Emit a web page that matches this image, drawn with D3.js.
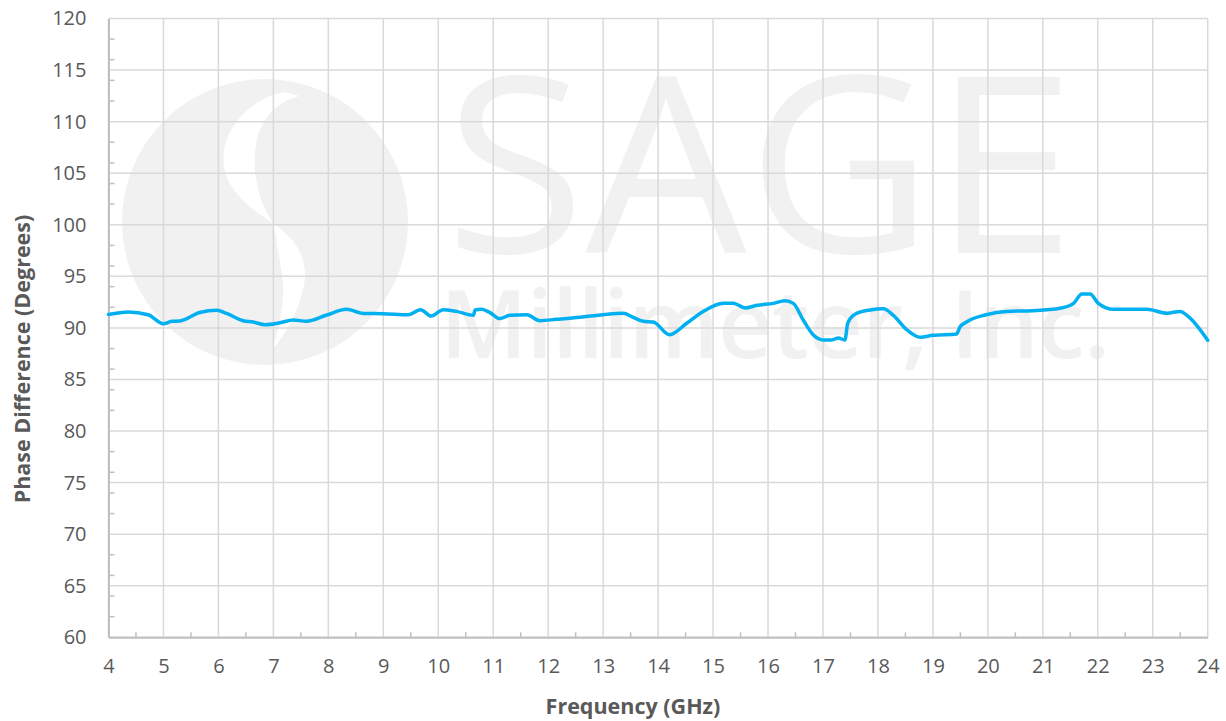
<!DOCTYPE html>
<html>
<head>
<meta charset="utf-8">
<script src="https://cdn.jsdelivr.net/npm/d3@7"></script>
<style>
  body { margin: 0; background: #fff; }
  text { font-family: "Open Sans", sans-serif; }
</style>
</head>
<body>
<svg width="1226" height="721"></svg>
<script>
// frequency (GHz) and phase difference (degrees)
const freq = [4.0, 4.36, 4.72, 5.0, 5.15, 5.3, 5.66, 5.97, 6.15, 6.45, 6.63, 6.85, 7.12, 7.36, 7.6,
              7.97, 8.33, 8.64, 9.0, 9.45, 9.68, 9.87, 10.09, 10.33, 10.64, 10.67, 10.79, 10.94,
              11.12, 11.3, 11.61, 11.85, 12.15, 12.58, 13.0, 13.37, 13.52, 13.73, 13.91, 14.21,
              14.52, 14.82, 15.19, 15.37, 15.58, 15.8, 16.1, 16.31, 16.46, 16.64, 16.83, 17.0,
              17.16, 17.28, 17.4, 17.45, 17.59, 17.86, 18.1, 18.28, 18.53, 18.77, 19.0, 19.43,
              19.49, 19.61, 19.97, 20.34, 20.82, 21.31, 21.56, 21.71, 21.86, 22.01, 22.29, 22.89,
              23.26, 23.5, 23.65, 24.0];
const phase = [91.3, 91.55, 91.28, 90.4, 90.64, 90.67, 91.5, 91.7, 91.4, 90.7, 90.57, 90.31, 90.5, 90.77, 90.64,
               91.25, 91.8, 91.4, 91.38, 91.28, 91.77, 91.15, 91.77, 91.6, 91.22, 91.74, 91.8, 91.48,
               90.9, 91.22, 91.28, 90.7, 90.83, 91.03, 91.28, 91.42, 91.09, 90.64, 90.57, 89.34,
               90.45, 91.6, 92.4, 92.4, 91.93, 92.19, 92.38, 92.64, 92.38, 90.77, 89.28, 88.83,
               88.83, 89.02, 88.83, 90.45, 91.35, 91.74, 91.86, 91.22, 89.8, 89.09, 89.28, 89.41,
               90.06, 90.57, 91.28, 91.6, 91.67, 91.9, 92.38, 93.29, 93.29, 92.38, 91.8, 91.8,
               91.42, 91.6, 91.09, 88.8];

const xTicks = d3.range(4, 25, 1);
const yTicks = d3.range(60, 121, 5);
const yMinor = d3.range(62, 120, 2).filter(d => d % 10 !== 0);
const xMinor = d3.range(4.5, 24, 1);

const svg = d3.select('svg');
const pLeft = 108.5, pRight = 1207.7, pTop = 18.5, pBottom = 637.3;

const x = d3.scaleLinear().domain([4, 24]).range([pLeft, pRight]);
const y = d3.scaleLinear().domain([60, 120]).range([pBottom, pTop]);

// watermark
const wm = svg.append('g');
wm.append('circle').attr('cx', 265).attr('cy', 222).attr('r', 143).attr('fill', '#f1f1f1');
wm.append('path')
  .attr('d', 'M285 92 C240 100 212 145 228 180 C238 200 258 214 273 223 C257 200 250 165 258 135 C266 112 282 100 300 96 Z')
  .attr('fill', '#fff');
wm.append('path')
  .attr('d', 'M273 223 C298 240 310 262 303 290 C297 315 285 335 272 350 C282 320 286 292 281 268 C278 250 276 236 273 223 Z')
  .attr('fill', '#fff');
wm.append('text').attr('x', 445).attr('y', 253)
  .attr('textLength', 630).attr('lengthAdjust', 'spacingAndGlyphs')
  .style('font-size', '246px').style('font-weight', 400).attr('fill', '#f1f1f1')
  .text('SAGE');
wm.append('text').attr('x', 440).attr('y', 358)
  .attr('textLength', 670).attr('lengthAdjust', 'spacing')
  .style('font-size', '95px').style('font-weight', 600).attr('fill', '#f1f1f1')
  .text('Millimeter, Inc.');

// gridlines
svg.append('g').selectAll('line').data(yTicks).join('line')
  .attr('x1', pLeft).attr('x2', pRight)
  .attr('y1', d => y(d)).attr('y2', d => y(d))
  .attr('stroke', '#d9d9d9').attr('stroke-width', 1.5);
svg.append('g').selectAll('line').data(xTicks).join('line')
  .attr('y1', pTop).attr('y2', pBottom)
  .attr('x1', d => x(d)).attr('x2', d => x(d))
  .attr('stroke', '#d9d9d9').attr('stroke-width', 1.5);

// axes
const yAxis = d3.axisLeft(y).tickValues(yTicks).tickSize(0).tickPadding(22);
const xAxis = d3.axisBottom(x).tickValues(xTicks).tickSize(0).tickPadding(22);

const yg = svg.append('g').attr('transform', `translate(${pLeft},0)`).call(yAxis);
const xg = svg.append('g').attr('transform', `translate(0,${pBottom})`).call(xAxis);
[yg, xg].forEach(g => {
  g.select('.domain').attr('stroke', '#bfbfbf').attr('stroke-width', 2);
  g.selectAll('text').attr('fill', '#595959').style('font-size', '20px')
    .style('font-family', '"Open Sans", sans-serif');
});

svg.append('g').selectAll('line').data(yMinor).join('line')
  .attr('x1', pLeft).attr('x2', pLeft + 6)
  .attr('y1', d => y(d)).attr('y2', d => y(d))
  .attr('stroke', '#bfbfbf').attr('stroke-width', 1.5);
svg.append('g').selectAll('line').data(xMinor).join('line')
  .attr('y1', pBottom).attr('y2', pBottom - 5)
  .attr('x1', d => x(d)).attr('x2', d => x(d))
  .attr('stroke', '#bfbfbf').attr('stroke-width', 1.5);

// data line
const pts = freq.map((f, i) => [f, phase[i]]);
const line = d3.line().x(d => x(d[0])).y(d => y(d[1])).curve(d3.curveMonotoneX);
svg.append('path').attr('d', line(pts))
  .attr('fill', 'none').attr('stroke', '#00b0f0').attr('stroke-width', 3.5)
  .attr('stroke-linejoin', 'round').attr('stroke-linecap', 'round');

// axis titles
svg.append('text').attr('x', 633).attr('y', 714)
  .attr('text-anchor', 'middle').attr('fill', '#595959')
  .style('font-size', '21.5px').style('font-weight', 'bold')
  .text('Frequency (GHz)');
svg.append('text').attr('transform', 'translate(30,359) rotate(-90)')
  .attr('text-anchor', 'middle').attr('fill', '#595959')
  .style('font-size', '21.5px').style('font-weight', 'bold')
  .text('Phase Difference (Degrees)');
</script>
</body>
</html>
